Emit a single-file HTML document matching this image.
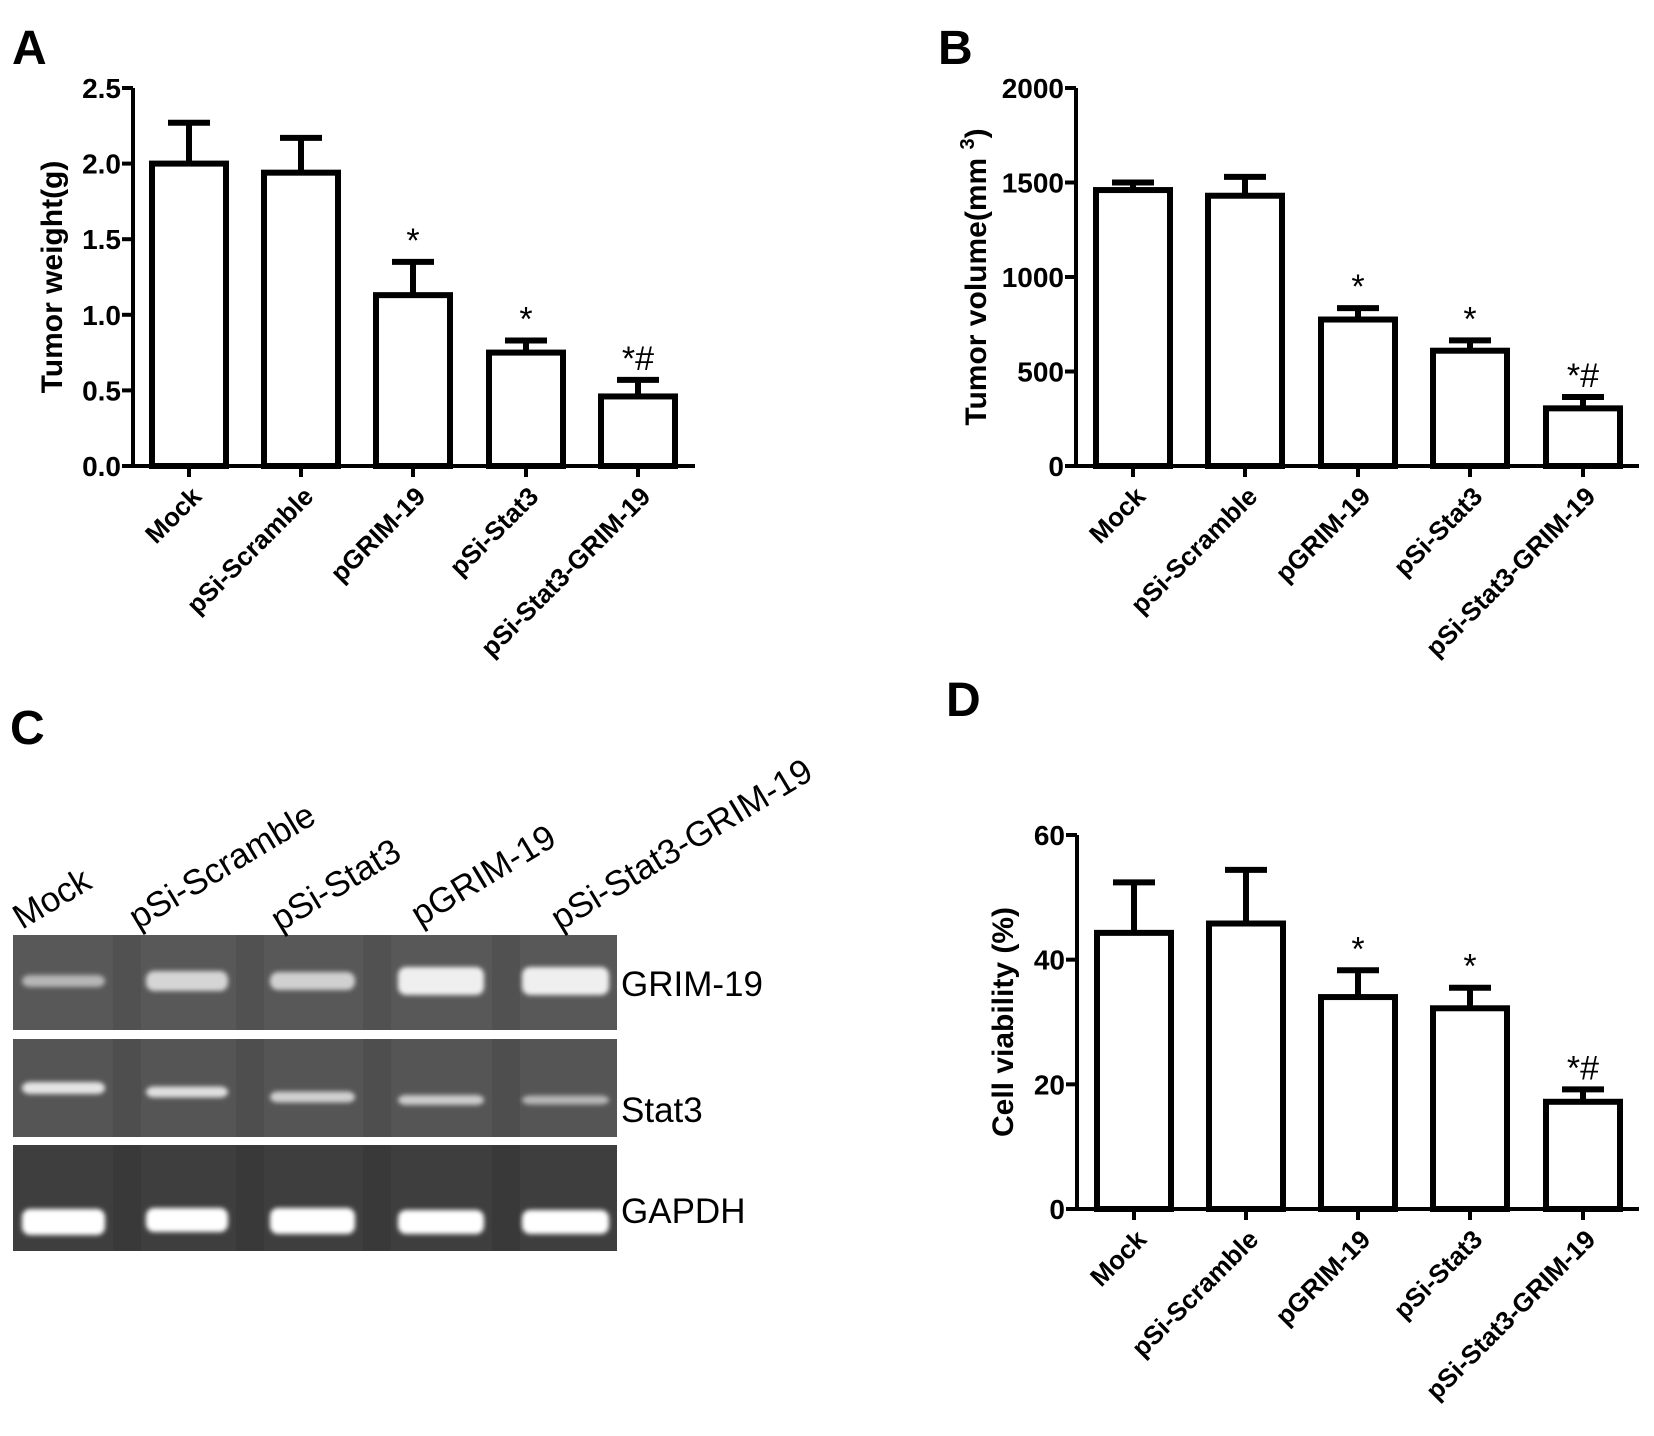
<!DOCTYPE html>
<html><head><meta charset="utf-8">
<style>
html,body{margin:0;padding:0;background:#fff;}
svg{display:block;}
.tk{font-family:"Liberation Sans",Arial,sans-serif;font-weight:bold;font-size:28px;fill:#000;}
.cat{font-family:"Liberation Sans",Arial,sans-serif;font-weight:bold;font-size:26px;fill:#000;}
.lab{font-family:"Liberation Sans",Arial,sans-serif;font-weight:bold;font-size:30px;fill:#000;}
.pl{font-family:"Liberation Sans",Arial,sans-serif;font-weight:bold;font-size:48px;fill:#000;}
.gl{font-family:"Liberation Sans",Arial,sans-serif;font-size:35px;fill:#000;}
</style></head>
<body>
<svg id="fig" width="1654" height="1436" viewBox="0 0 1654 1436" xmlns="http://www.w3.org/2000/svg">
<text class="pl" x="12" y="64">A</text>
<text class="pl" x="938" y="64">B</text>
<text class="pl" x="10" y="744">C</text>
<text class="pl" x="946" y="716">D</text>
<g id="gA"></g>
<g id="gB"></g>
<g id="gD"></g>
<g id="gC"></g>
</svg>
<script>
const categories = ["Mock","pSi-Scramble","pGRIM-19","pSi-Stat3","pSi-Stat3-GRIM-19"];
const weightValues = [2.0, 1.94, 1.13, 0.75, 0.46];
const weightErrors = [0.27, 0.23, 0.22, 0.08, 0.11];
const weightTicks = ["0.0","0.5","1.0","1.5","2.0","2.5"];
const volumeValues = [1460, 1430, 775, 610, 305];
const volumeErrors = [40, 100, 60, 55, 60];
const volumeTicks = ["0","500","1000","1500","2000"];
const viabilityValues = [44.3, 45.8, 34.0, 32.2, 17.2];
const viabilityErrors = [8.1, 8.6, 4.3, 3.3, 2.0];
const viabilityTicks = ["0","20","40","60"];
const significance = ["", "", "*", "*", "*#"];
const gelLanes = ["Mock","pSi-Scramble","pSi-Stat3","pGRIM-19","pSi-Stat3-GRIM-19"];
const gelGenes = ["GRIM-19","Stat3","GAPDH"];
const grimIntensity = [0.3, 0.6, 0.55, 0.85, 0.85];
const stat3Intensity = [0.75, 0.7, 0.55, 0.5, 0.3];
const gapdhIntensity = [1, 1, 1, 1, 1];

const NS = "http://www.w3.org/2000/svg";
function mk(parent, tag, attrs, text){
  const e = document.createElementNS(NS, tag);
  for (const k in attrs) e.setAttribute(k, attrs[k]);
  if (text !== undefined) e.textContent = text;
  parent.appendChild(e);
  return e;
}

function barChart(g, cfg){
  const {x0, x1, yTop, yZero, max, ticks, values, errors, title, titleX, centers} = cfg;
  const ys = v => yZero - (v / max) * (yZero - yTop);
  const ax = mk(g, "path", {d:`M${x0} ${yTop} V${yZero} H${x1}`, stroke:"#000", "stroke-width":4, fill:"none"});
  
  
  ticks.forEach((t, i) => {
    const v = i * max / (ticks.length - 1);
    const y = ys(v);
    const tl = mk(g, "line", {x1:x0-11, x2:x0, y1:y, y2:y, stroke:"#000", "stroke-width":4});
    
    
    const tx = mk(g, "text", {class:"tk", x:x0-12, y:y+10, "text-anchor":"end"}, t);
    
    
  });
  const tt = mk(g, "text", {class:"lab", x:0, y:0, "text-anchor":"middle", transform:`translate(${titleX},${(yTop+yZero)/2}) rotate(-90)`});
  tt.innerHTML = title;
  
  
  const bw = 74;
  values.forEach((v, i) => {
    const cx = centers[i];
    const y = ys(v), ye = ys(v + errors[i]);
    const eb = mk(g, "path", {d:`M${cx} ${y} V${ye} M${cx-21} ${ye} H${cx+21}`, stroke:"#000", "stroke-width":6, fill:"none"});
    
    
    const r = mk(g, "rect", {x:cx-bw/2, y:y, width:bw, height:yZero-y, fill:"#fff", stroke:"#000", "stroke-width":6});
    
    
    const xt = mk(g, "line", {x1:cx, x2:cx, y1:yZero, y2:yZero+11, stroke:"#000", "stroke-width":4});
    
    
    const cl = mk(g, "text", {class:"cat", x:0, y:0, "text-anchor":"end", transform:`translate(${cx+14},${yZero+32}) rotate(-45)`}, categories[i]);
    
    
    if (significance[i]) {
      const s = mk(g, "text", {x:cx, y:ye-10, "text-anchor":"middle", "font-family":"Liberation Sans, Arial, sans-serif", "font-size":"34px", fill:"#000"}, significance[i]);
      
      
    }
  });
}

barChart(document.getElementById("gA"), {x0:133, x1:695, yTop:88, yZero:466, max:2.5, ticks:weightTicks,
  values:weightValues, errors:weightErrors, title:"Tumor weight(g)", titleX:62, centers:[189,301,413,526,638]});
barChart(document.getElementById("gB"), {x0:1076, x1:1639, yTop:88, yZero:466, max:2000, ticks:volumeTicks,
  values:volumeValues, errors:volumeErrors, title:'Tumor volume(mm <tspan dy="-12" font-size="20">3</tspan><tspan dy="12">)</tspan>', titleX:986, centers:[1133,1245,1358,1470,1583]});
barChart(document.getElementById("gD"), {x0:1077, x1:1639, yTop:835, yZero:1209, max:60, ticks:viabilityTicks,
  values:viabilityValues, errors:viabilityErrors, title:"Cell viability (%)", titleX:1013, centers:[1134,1246,1358,1470,1583]});

// Gel
const gC = document.getElementById("gC");
const defs = mk(gC, "defs", {});
const flt = mk(defs, "filter", {id:"blur", x:"-20%", y:"-80%", width:"140%", height:"260%"});
mk(flt, "feGaussianBlur", {stdDeviation:"2.5"});
const panels = [{y:935,h:95,bg:"#585858",bandY:981,bandH:[12,20,18,28,28],inten:grimIntensity},
                {y:1039,h:98,bg:"#555555",bandY:1096,bandH:[12,11,11,10,9],inten:stat3Intensity},
                {y:1145,h:106,bg:"#3e3e3e",bandY:1222,bandH:[26,24,26,24,24],inten:gapdhIntensity}];
const laneX = [[22,105],[146,228],[270,355],[398,484],[522,609]];
const bandOffset = [[0,0,0,0,0],[-8,-4,1,4,4],[0,-2,-1,0,0]];
panels.forEach((p, pi) => {
  const r = mk(gC, "rect", {x:13, y:p.y, width:604, height:p.h, fill:p.bg});
  
  
  laneX.forEach((lx, li) => {
    if (li < laneX.length - 1) {
      const gap = mk(gC, "rect", {x:lx[1]+8, y:p.y, width:28, height:p.h, fill:"#000", opacity:0.08});
      
      
    }
    const v = p.inten[li];
    const c = Math.round(150 + 105 * v);
    const h = p.bandH[li];
    const b = mk(gC, "rect", {x:lx[0], y:p.bandY + bandOffset[pi][li] - h/2, width:lx[1]-lx[0], height:h, rx:8, fill:`rgb(${c},${c},${c})`, filter:"url(#blur)"});
    
    
  });
  const gl = mk(gC, "text", {class:"gl", x:621, y:[996,1122,1223][pi]}, gelGenes[pi]);
  
  
});
const laneLabelPos = [[22,930],[138,930],[280,932],[420,927],[560,931]];
gelLanes.forEach((n, i) => {
  const t = mk(gC, "text", {class:"gl", x:0, y:0, transform:`translate(${laneLabelPos[i][0]},${laneLabelPos[i][1]}) rotate(-31)`}, n);
  
  
});
</script>
</body></html>
